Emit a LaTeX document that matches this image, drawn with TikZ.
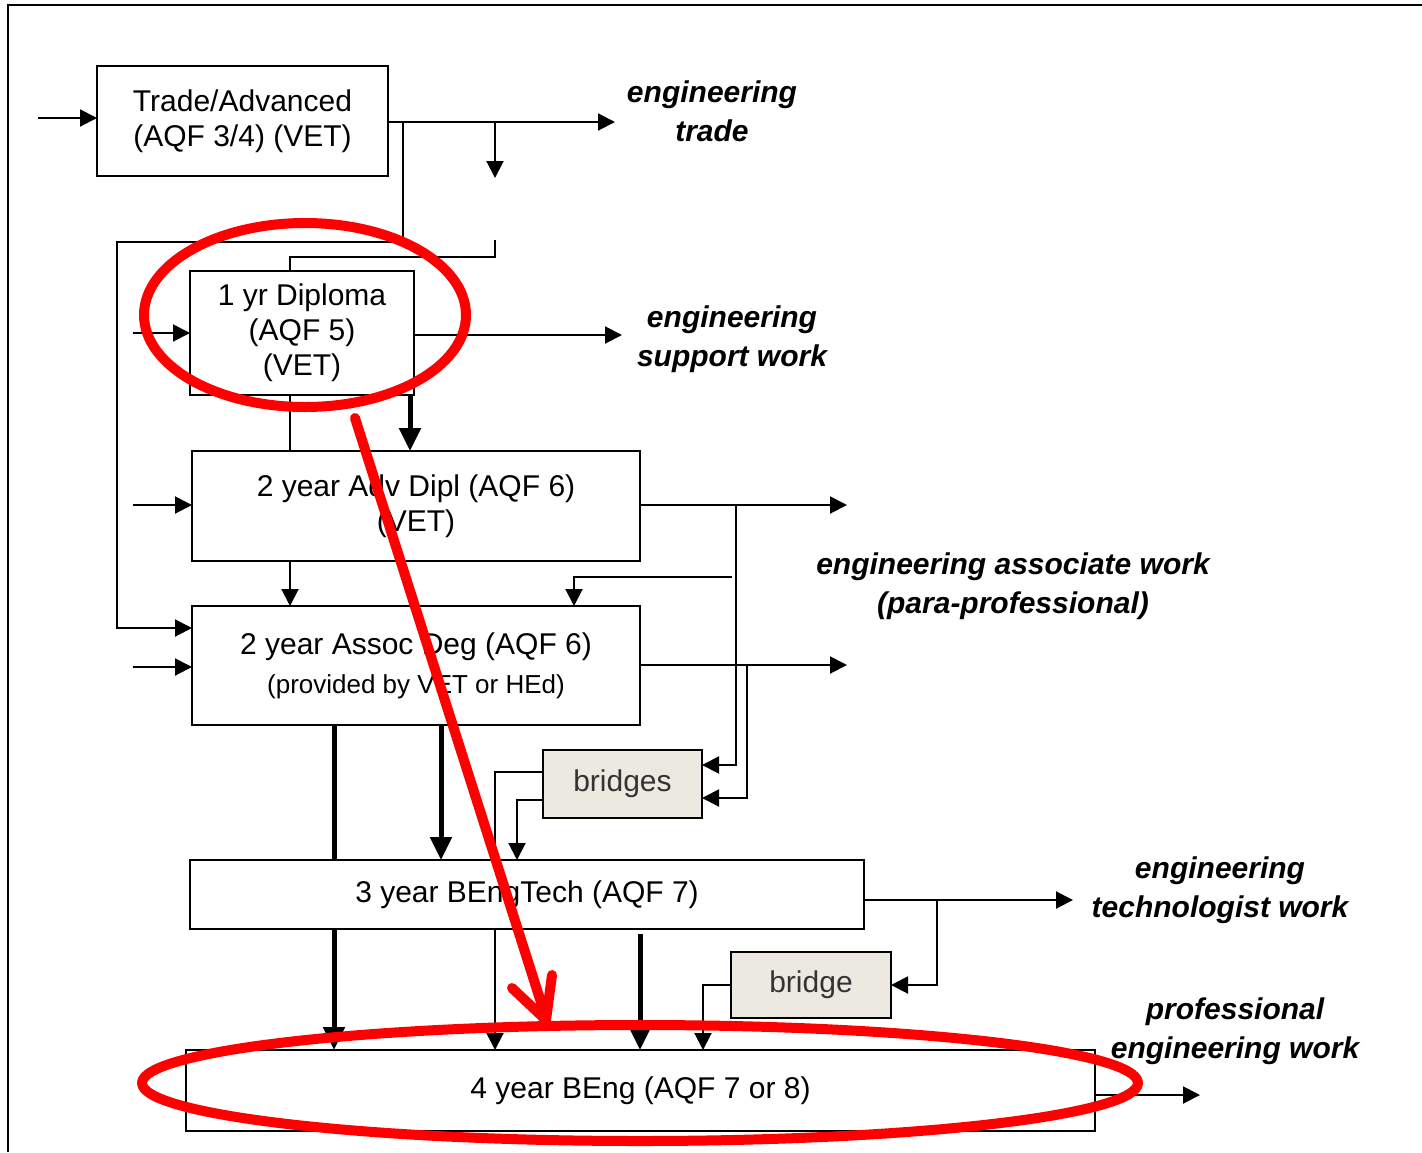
\documentclass[tikz,border=0pt]{standalone}
\usepackage{fontspec}
\setmainfont{Liberation Sans}
\usetikzlibrary{arrows.meta,positioning}
\definecolor{bridgefill}{RGB}{236,234,224}
\definecolor{markred}{RGB}{255,0,0}

\begin{document}
\begin{tikzpicture}[x=1pt, y=-1pt, line width=2pt, >={Triangle[length=17pt,width=17pt]}]

    \tikzstyle{qual} = [rectangle, draw=black, line width=2pt, inner sep=0pt, outer sep=0pt, align=center, font=\fontsize{30}{35}\selectfont]
    \tikzstyle{brg} = [qual, fill=bridgefill, text=black!80]
    \tikzstyle{work} = [align=center, font=\fontsize{30}{39}\selectfont\bfseries\itshape]
    \tikzstyle{heavy} = [line width=5pt, >={Triangle[length=23pt,width=21pt]}]
    \tikzstyle{redmark} = [draw=markred, line width=10pt, line cap=round, line join=round]

    \useasboundingbox (0,0) rectangle (1422,1152);
    \draw (8,1152) -- (8,5) -- (1422,5);

    \node (trade)    [qual, minimum width=291pt, minimum height=110pt, anchor=north west] at (97,66) {Trade/Advanced\\(AQF 3/4) (VET)};

    \node (diploma)  [qual, minimum width=224pt, minimum height=124pt, below right=95pt and 93pt of trade.south west] {1 yr Diploma\\(AQF 5)\\(VET)};

    \node (advdip)   [qual, minimum width=448pt, minimum height=110pt, below right=56pt and 2pt of diploma.south west] {2 year Adv Dipl (AQF 6)\\(VET)};

    \node (assoc)    [qual, minimum width=448pt, minimum height=119pt, below right=45pt and 0pt of advdip.south west] {2 year Assoc Deg (AQF 6)\\[4pt]{\fontsize{26}{30}\selectfont (provided by VET or HEd)}};

    \node (bridges)  [brg, minimum width=159pt, minimum height=68pt, below right=25pt and 351pt of assoc.south west] {bridges};

    \node (bengtech) [qual, minimum width=674pt, minimum height=69pt, below right=135pt and -2pt of assoc.south west] {3 year BEngTech (AQF 7)};

    \node (bridge)   [brg, minimum width=160pt, minimum height=66pt, below right=23pt and 541pt of bengtech.south west] {bridge};

    \node (beng)     [qual, minimum width=909pt, minimum height=81pt, below right=121pt and -4pt of bengtech.south west] {4 year BEng (AQF 7 or 8)};

    \node (tradework)   [work] at (712,111)  {engineering\\trade};
    \node (supportwork) [work] at (732,339)  {engineering\\support work};
    \node (assocwork)   [work] at (1013,586) {engineering associate work\\(para-professional)};
    \node (techwork)    [work] at (1220,890) {engineering\\technologist work};
    \node (prowork)     [work] at (1235,1031) {professional\\engineering work};

    \coordinate (intrade)   at (38,118);
    \coordinate (tradeout)  at (615,122);
    \coordinate (tradedrop) at (495,178);
    \coordinate (loopa)     at (403,242);
    \coordinate (loopb)     at (117,242);
    \coordinate (loopc)     at (117,628);
    \coordinate (tradestub) at (495,240);
    \coordinate (diptop)    at (290,257);
    \coordinate (indip)     at (133,333);
    \coordinate (dipout)    at (622,335);
    \coordinate (dipthick)  at (410,420);
    \coordinate (inadv)     at (133,505);
    \coordinate (advout)    at (847,505);
    \coordinate (advdown)   at (736,765);
    \coordinate (assocstub) at (732,577);
    \coordinate (assocdrop) at (574,577);
    \coordinate (inassoc)   at (133,667);
    \coordinate (assocout)  at (847,665);
    \coordinate (assocdown) at (747,798);
    \coordinate (colA)      at (334,800);
    \coordinate (colB)      at (441,800);
    \coordinate (bra)       at (495,772);
    \coordinate (brb)       at (517,800);
    \coordinate (techout)   at (1073,900);
    \coordinate (techdown)  at (937,985);
    \coordinate (colC)      at (640,934);
    \coordinate (brc)       at (703,985);
    \coordinate (bengout)   at (1200,1095);

    \draw[->] (intrade) -- (intrade -| trade.west);
    \draw[->] (indip) -- (indip -| diploma.west);
    \draw[->] (inadv) -- (inadv -| advdip.west);
    \draw[->] (inassoc) -- (inassoc -| assoc.west);

    \draw[->] (trade.east |- tradeout) -- (tradeout);
    \draw[->] (tradedrop |- tradeout) -- (tradedrop);
    \draw[->] (loopa |- tradeout) -- (loopa) -- (loopb) -- (loopc) -- (loopc -| assoc.west);
    \draw     (tradestub) -- (tradestub |- diptop) -- (diptop) -- (diptop |- diploma.north);

    \draw[->] (diploma.east |- dipout) -- (dipout);
    \draw     (diploma.south -| diptop) -- (advdip.north -| diptop);
    \draw[heavy, ->] (diploma.south -| dipthick) -- (advdip.north -| dipthick);

    \draw[->] (advdip.east |- advout) -- (advout);
    \draw[->] (advdown |- advout) -- (advdown) -- (advdown -| bridges.east);
    \draw[->] (advdip.south -| diptop) -- (assoc.north -| diptop);
    \draw[->] (assocstub) -- (assocdrop) -- (assocdrop |- assoc.north);

    \draw[->] (assoc.east |- assocout) -- (assocout);
    \draw[->] (assocdown |- assocout) -- (assocdown) -- (assocdown -| bridges.east);
    \draw[heavy]     (assoc.south -| colA) -- (bengtech.north -| colA);
    \draw[heavy, ->] (assoc.south -| colB) -- (bengtech.north -| colB);

    \draw     (bridges.west |- bra) -- (bra) -- (bra |- bengtech.north);
    \draw[->] (bridges.west |- brb) -- (brb) -- (brb |- bengtech.north);

    \draw[->] (bengtech.east |- techout) -- (techout);
    \draw[->] (techdown |- techout) -- (techdown) -- (techdown -| bridge.east);
    \draw[heavy, ->] (bengtech.south -| colA) -- (beng.north -| colA);
    \draw[->] (bengtech.south -| bra) -- (beng.north -| bra);
    \draw[heavy, ->] (colC) -- (colC |- beng.north);
    \draw[->] (bridge.west |- brc) -- (brc) -- (brc |- beng.north);

    \draw[->] (beng.east |- bengout) -- (bengout);

    \draw[redmark] (305,315) ellipse [x radius=161, y radius=92];
    \draw[redmark] (640,1083) ellipse [x radius=498, y radius=58];
    \draw[redmark] (355,418) -- (546,1018);
    \draw[redmark] (512,988) -- (546,1020) -- (552,975);
\end{tikzpicture}
\end{document}
